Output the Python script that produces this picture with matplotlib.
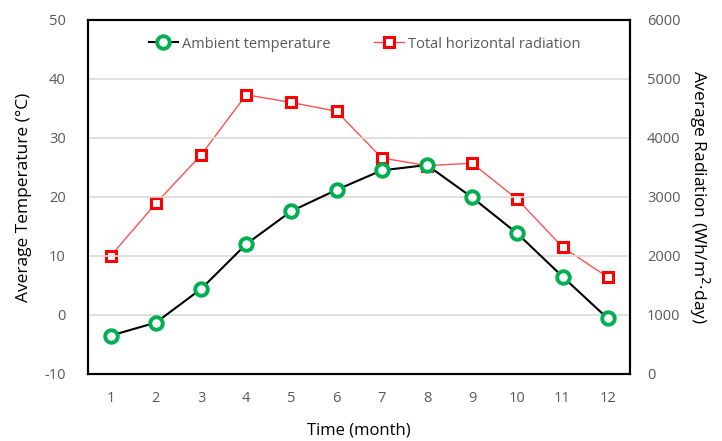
import matplotlib.pyplot as plt
from matplotlib.ticker import MultipleLocator

plt.rcParams['font.family'] = ['Open Sans', 'DejaVu Sans']
plt.rcParams['axes.unicode_minus'] = False

months = [1, 2, 3, 4, 5, 6, 7, 8, 9, 10, 11, 12]
temperature = [-3.5, -1.3, 4.4, 12.0, 17.6, 21.2, 24.5, 25.4, 19.9, 13.8, 6.5, -0.6]
radiation = [2000, 2890, 3710, 4730, 4600, 4450, 3660, 3530, 3570, 2960, 2150, 1640]

tick_color = '#595959'

fig = plt.figure(figsize=(7.22, 4.41), dpi=100)
ax = fig.add_axes([0.122, 0.152, 0.751, 0.803])
ax2 = ax.twinx()

# Сетка
ax.set_axisbelow(True)
ax.yaxis.grid(True, color='#d9d9d9', linewidth=1.2)

l1, = ax.plot(months, temperature, color='black', linewidth=1.5,
              marker='o', markersize=9, markerfacecolor='white',
              markeredgecolor='#00b050', markeredgewidth=2.8,
              label='Ambient temperature', zorder=3)
l2, = ax2.plot(months, radiation, color='#ff5050', linewidth=1,
               marker='s', markersize=7, markerfacecolor='white',
               markeredgecolor='#ff0000', markeredgewidth=2.2,
               label='Total horizontal radiation', zorder=3)
ax.set_zorder(ax2.get_zorder() + 1)
ax.patch.set_visible(False)

ax.set_xlim(0.5, 12.5)
ax.set_ylim(-10, 50)
ax2.set_ylim(0, 6000)
ax.set_xticks(months)
ax.yaxis.set_major_locator(MultipleLocator(10))
ax2.yaxis.set_major_locator(MultipleLocator(1000))

for a in (ax, ax2):
    a.tick_params(length=0, labelsize=10.5, colors=tick_color)
    for s in a.spines.values():
        s.set_color('black')
        s.set_linewidth(1.5)
ax.tick_params(axis='x', pad=12)
ax.tick_params(axis='y', pad=16)
ax2.tick_params(axis='y', pad=12)

ax.set_xlabel('Time (month)', fontsize=12, labelpad=12)
ax.set_ylabel('Average Temperature (°C)', fontsize=12.5, labelpad=9)
ax2.set_ylabel('Average Radiation (Wh/m$^{2}$·day)', fontsize=12.5,
               rotation=270, labelpad=22)

leg = ax.legend(handles=[l1, l2], loc='upper center', ncol=2, frameon=False,
                fontsize=10.5, bbox_to_anchor=(0.51, 0.99), handlelength=2.0,
                columnspacing=3.0, handletextpad=0.3)
for t in leg.get_texts():
    t.set_color(tick_color)

fig.savefig('out.png', dpi=100)
